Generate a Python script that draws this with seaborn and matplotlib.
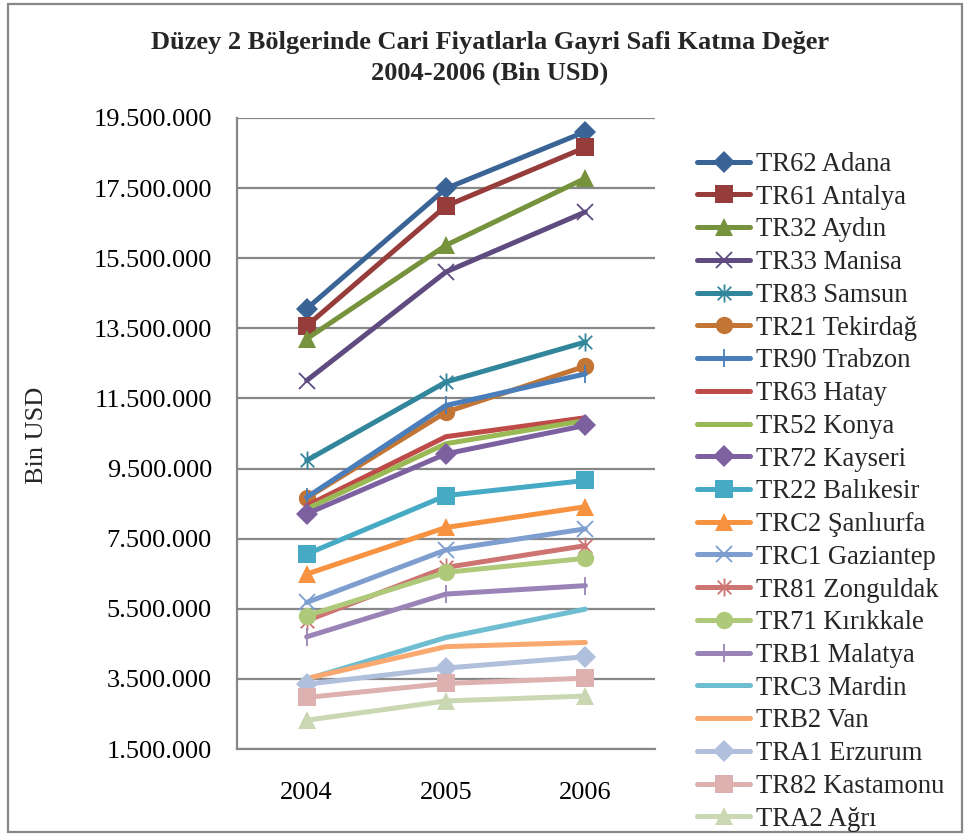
import matplotlib
matplotlib.use("Agg")
import matplotlib.pyplot as plt
import matplotlib.patches as mpatches
from matplotlib.path import Path
from matplotlib.ticker import FuncFormatter, FixedLocator
import seaborn as sns
import pandas as pd

# veri (Bin USD), grafikten okunan yaklasik degerler
years = [2004, 2005, 2006]
regions = [
    "TR62 Adana", "TR61 Antalya", "TR32 Aydın", "TR33 Manisa", "TR83 Samsun",
    "TR21 Tekirdağ", "TR90 Trabzon", "TR63 Hatay", "TR52 Konya", "TR72 Kayseri",
    "TR22 Balıkesir", "TRC2 Şanlıurfa", "TRC1 Gaziantep", "TR81 Zonguldak",
    "TR71 Kırıkkale", "TRB1 Malatya", "TRC3 Mardin", "TRB2 Van",
    "TRA1 Erzurum", "TR82 Kastamonu", "TRA2 Ağrı",
]
adana = [14060000, 17490000, 19110000]
antalya = [13570000, 16990000, 18660000]
aydin = [13200000, 15870000, 17780000]
manisa = [12010000, 15110000, 16820000]
samsun = [9730000, 11970000, 13110000]
tekirdag = [8660000, 11110000, 12420000]
trabzon = [8680000, 11300000, 12200000]
hatay = [8440000, 10410000, 10950000]
konya = [8350000, 10210000, 10870000]
kayseri = [8210000, 9920000, 10730000]
balikesir = [7060000, 8730000, 9160000]
sanliurfa = [6490000, 7820000, 8410000]
gaziantep = [5680000, 7180000, 7780000]
zonguldak = [5160000, 6680000, 7300000]
kirikkale = [5300000, 6540000, 6940000]
malatya = [4700000, 5920000, 6160000]
mardin = [3490000, 4680000, 5490000]
van = [3510000, 4420000, 4540000]
erzurum = [3350000, 3810000, 4130000]
kastamonu = [2970000, 3370000, 3520000]
agri = [2320000, 2870000, 3010000]
values = [adana, antalya, aydin, manisa, samsun, tekirdag, trabzon, hatay, konya,
          kayseri, balikesir, sanliurfa, gaziantep, zonguldak, kirikkale, malatya,
          mardin, van, erzurum, kastamonu, agri]

colors = ["#3B6496", "#963C3A", "#76923C", "#5F4B7F", "#31869B", "#C27535",
          "#4A7EBB", "#BE4B48", "#98B954", "#7D60A0", "#46AAC5", "#F69240",
          "#7D9ECF", "#CD7371", "#AFC97A", "#9A84B7", "#6FBDD1", "#F9A96F",
          "#AFBFDC", "#DCB1B0", "#C9D8B2"]

# Excel yildiz isareti: dikey cizgi + iki capraz
star = Path([(0, -1), (0, 1), (-0.75, -0.75), (0.75, 0.75), (-0.75, 0.75), (0.75, -0.75)],
            [Path.MOVETO, Path.LINETO, Path.MOVETO, Path.LINETO, Path.MOVETO, Path.LINETO])
# Excel marker dongusu: elmas, kare, ucgen, x, yildiz, daire, arti, yok, yok
marker_cycle = ["D", "s", "^", "x", star, "o", "|", "", ""]
msizes = [11.5, 12.5, 13, 12, 13, 12.5, 13, 0, 0]

sns.set_theme(style="white")
plt.rcParams["font.family"] = ["Liberation Serif", "DejaVu Serif"]

fig = plt.figure(figsize=(9.64, 8.34), dpi=100)
ax = fig.add_axes([237 / 964, 1 - 749 / 834, 418 / 964, (749 - 118) / 834])

df = pd.DataFrame({"pos": list(range(len(years))) * len(regions),
                   "value": [v for vals in values for v in vals],
                   "region": [r for r in regions for _ in years]})

handles = []
for i, reg in enumerate(regions):
    mk = marker_cycle[i % len(marker_cycle)]
    ms = msizes[i % len(msizes)]
    sub = df[df["region"] == reg]
    kw = dict(color=colors[i], linewidth=3.6, solid_capstyle="round",
              solid_joinstyle="round", label=reg, zorder=3)
    if mk != "":
        kw.update(marker=mk, markersize=ms, markeredgecolor=colors[i],
                  markerfacecolor=colors[i])
        if mk in ("x", "|") or isinstance(mk, Path):
            kw["markeredgewidth"] = 1.3
        else:
            kw["markeredgewidth"] = 0
    sns.lineplot(data=sub, x="pos", y="value", ax=ax, legend=False, **kw)
    handles.append(ax.lines[-1])

ax.set_xlim(-0.5, 2.5)
ax.set_ylim(1500000, 19500000)
ax.yaxis.set_major_locator(FixedLocator(list(range(1500000, 19500001, 2000000))))
ax.yaxis.set_major_formatter(FuncFormatter(lambda v, p: f"{int(v):,}".replace(",", ".")))
ax.set_xticks(range(len(years)))
ax.set_xticklabels([str(y) for y in years])
ax.grid(axis="y", color="#878787", linewidth=1.6)
ax.grid(axis="x", visible=False)
ax.set_axisbelow(True)
for s in ["top", "right"]:
    ax.spines[s].set_visible(False)
for s in ["left", "bottom"]:
    ax.spines[s].set_color("#878787")
    ax.spines[s].set_linewidth(1.6)
ax.tick_params(axis="y", length=0, pad=18, labelsize=19, colors="black")
ax.tick_params(axis="x", length=0, pad=24, labelsize=19, colors="black")
ax.set_xlabel("")
ax.set_ylabel("")
fig.text(37 / 964, 1 - 435 / 834, "Bin USD", rotation=90, fontsize=19,
         ha="center", va="center")

fig.text(490 / 964, 1 - 43 / 834, "Düzey 2 Bölgerinde Cari Fiyatlarla Gayri Safi Katma Değer",
         fontsize=19, fontweight="bold", ha="center", va="center")
fig.text(490 / 964, 1 - 73 / 834, "2004-2006 (Bin USD)",
         fontsize=19, fontweight="bold", ha="center", va="center")

fig.legend(handles=handles, labels=regions, loc="upper left",
           bbox_to_anchor=(697 / 964, 1 - 152 / 834), frameon=False,
           fontsize=19.2, handlelength=2.0, handletextpad=0.2, labelspacing=0.29,
           borderpad=0, borderaxespad=0)

fig.patches.append(mpatches.Rectangle((8 / 964, 2 / 834), 954 / 964, 828 / 834,
                                      transform=fig.transFigure, fill=False,
                                      edgecolor="#878787", linewidth=1.6))

fig.savefig("out.png", dpi=100)
